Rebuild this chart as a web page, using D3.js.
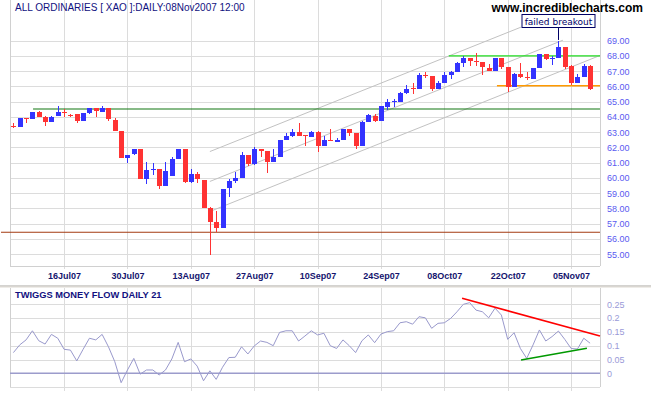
<!DOCTYPE html>
<html>
<head>
<meta charset="utf-8">
<script src="https://cdn.jsdelivr.net/npm/d3@7"></script>
<style>
body { margin: 0; background: #fff; }
svg { display: block; font-family: "Liberation Sans", Arial, sans-serif; }
</style>
</head>
<body>
<div id="grafico"></div>
<script>
// Trading days 04Jul07 .. 08Nov07, tick labels and axis values
var firstDay = new Date(2007, 6, 4), lastDay = new Date(2007, 10, 9);
var dateTicks = ["16Jul07", "30Jul07", "13Aug07", "27Aug07", "10Sep07", "24Sep07", "08Oct07", "22Oct07", "05Nov07"];
var priceTicks = [55, 56, 57, 58, 59, 60, 61, 62, 63, 64, 65, 66, 67, 68, 69];
var flowTicks = [0, 0.05, 0.1, 0.15, 0.2, 0.25];

// Daily OHLC (one value per trading day)
var opens = [63.42, 63.36, 63.93, 63.87, 64.30, 64.02, 63.69, 64.06,
  64.32, 64.10, 64.17, 63.75, 64.24, 64.57, 64.34, 64.57, 63.80, 63.08,
  61.33, 61.55, 61.90, 59.93, 60.55, 60.57, 59.49, 60.15, 61.24, 61.90,
  59.71, 60.26, 59.87, 58.05, 57.09, 56.74, 59.32, 59.80, 60.02, 61.50,
  60.90, 61.88, 61.77, 61.07, 61.39, 62.49, 62.75, 63.03, 62.82, 62.70,
  63.03, 62.11, 62.49, 62.36, 62.49, 63.21, 62.93, 62.11, 63.69, 64.08,
  63.75, 64.67, 64.98, 65.00, 65.55, 65.88, 65.83, 66.77, 66.69, 65.85,
  66.25, 66.78, 66.97, 67.54, 67.87, 67.69, 67.60, 67.21, 67.01, 67.85,
  67.28, 65.96, 66.82, 66.59, 66.49, 67.21, 68.13, 67.83, 67.89, 68.58,
  67.36, 66.25, 66.64, 67.36];
var highs = [63.58, 63.93, 63.94, 64.32, 64.39, 64.05, 64.05, 64.72,
  64.50, 64.18, 64.19, 64.26, 64.60, 64.60, 64.72, 64.59, 63.91, 63.10,
  61.52, 61.92, 61.92, 61.07, 60.96, 60.59, 61.07, 61.35, 61.92, 61.92,
  60.57, 60.41, 59.89, 58.07, 57.83, 59.28, 59.91, 60.41, 61.72, 61.52,
  62.01, 61.90, 61.79, 61.88, 62.51, 62.93, 63.21, 63.62, 62.84, 63.05,
  63.05, 62.75, 63.21, 62.64, 63.23, 63.23, 62.95, 63.71, 64.19, 64.19,
  64.74, 65.16, 65.16, 65.66, 66.09, 66.21, 66.86, 66.93, 66.71, 66.36,
  66.97, 66.99, 67.58, 68.00, 67.89, 68.17, 67.62, 67.47, 67.89, 67.87,
  67.30, 66.86, 67.54, 66.93, 67.23, 68.15, 68.15, 68.02, 68.95, 68.60,
  67.38, 66.82, 67.45, 67.38];
var lows = [63.25, 63.34, 63.58, 63.85, 64.00, 63.41, 63.67, 64.04,
  64.02, 63.98, 63.62, 63.73, 64.22, 63.98, 64.32, 63.75, 63.08, 61.30,
  60.96, 61.53, 59.91, 59.58, 60.19, 59.26, 59.47, 60.13, 61.22, 59.69,
  59.69, 59.65, 58.03, 54.97, 56.44, 56.72, 58.77, 59.65, 60.00, 60.78,
  60.88, 61.39, 60.34, 61.05, 61.37, 62.47, 62.70, 62.73, 62.11, 62.68,
  61.68, 62.09, 62.40, 62.34, 62.47, 62.77, 61.90, 62.09, 63.67, 63.69,
  63.73, 64.46, 64.67, 64.98, 65.53, 65.50, 65.81, 66.53, 65.72, 65.83,
  66.23, 66.47, 66.95, 67.30, 67.34, 67.34, 66.78, 66.99, 66.99, 67.12,
  65.66, 65.94, 66.55, 66.42, 66.47, 67.19, 67.73, 67.41, 67.87, 67.14,
  66.09, 66.23, 66.62, 65.75];
var closes = [63.40, 63.91, 63.90, 64.30, 64.02, 63.69, 64.02, 64.34,
  64.29, 64.07, 63.75, 64.24, 64.57, 64.39, 64.57, 63.85, 63.10, 61.33,
  61.50, 61.90, 59.93, 60.52, 60.58, 59.49, 60.46, 61.24, 61.90, 59.71,
  60.26, 59.93, 58.05, 57.13, 56.74, 59.26, 59.80, 60.02, 61.50, 60.90,
  61.88, 61.77, 61.07, 61.39, 62.49, 62.75, 63.03, 62.75, 62.75, 63.03,
  62.11, 62.49, 62.42, 62.49, 63.21, 62.93, 62.11, 63.69, 64.10, 63.75,
  64.70, 65.00, 65.02, 65.55, 65.83, 65.84, 66.75, 66.73, 65.85, 66.25,
  66.78, 66.97, 67.54, 67.87, 67.70, 67.65, 67.27, 67.01, 67.87, 67.28,
  65.98, 66.82, 66.60, 66.55, 67.21, 68.12, 67.80, 67.87, 68.58, 67.30,
  66.25, 66.60, 67.36, 65.81];

// Twiggs Money Flow 21
var moneyFlow = [0.075, 0.103, 0.121, 0.154, 0.118, 0.106, 0.141, 0.127,
  0.087, 0.084, 0.045, 0.087, 0.127, 0.121, 0.141, 0.096, 0.042, -0.034,
  0.012, 0.054, -0.003, 0.012, 0.012, -0.006, 0.012, 0.052, 0.112, 0.042,
  0.052, 0.026, -0.027, 0.009, -0.022, 0.022, 0.057, 0.058, 0.096, 0.070,
  0.099, 0.117, 0.112, 0.100, 0.148, 0.154, 0.154, 0.117, 0.135, 0.154,
  0.139, 0.145, 0.100, 0.090, 0.121, 0.100, 0.075, 0.118, 0.139, 0.111,
  0.142, 0.151, 0.154, 0.183, 0.187, 0.178, 0.205, 0.201, 0.163, 0.181,
  0.183, 0.199, 0.223, 0.250, 0.256, 0.229, 0.223, 0.201, 0.236, 0.211,
  0.123, 0.147, 0.090, 0.054, 0.103, 0.157, 0.117, 0.133, 0.153, 0.123,
  0.090, 0.088, 0.127, 0.109];

// Drawn lines: [day index, value] pairs
var channelUpper = [[31, 61.73], [80.1, 69.89]];
var channelMiddle = [[31, 59.77], [86.7, 69.03]];
var channelLower = [[31, 57.80], [92.56, 68.03]];
var supportOld = [[3.1, 64.52], [92.56, 64.52]];
var supportLow = [[-1.96, 56.44], [92.56, 56.44]];
var resistance = [[68.7, 68.0], [92.56, 68.0]];
var supportNew = [[76.3, 66.05], [92.56, 66.05]];
var flowDown = [[70.8, 0.272], [92.56, 0.135]];
var flowUp = [[80.1, 0.048], [90.5, 0.091]];
var breakout = {day: 86, price: 69.05, label: "failed breakout"};

var svg_area = d3.select("#grafico")
  .append("svg")
    .attr("width", 651)
    .attr("height", 395);

var left = 10, right = 600, bottom1 = 266, top2 = 288;

var days = d3.timeDay.range(firstDay, lastDay).filter(function(d) {
  return d.getDay() > 0 && d.getDay() < 6;
});
var dayKey = d3.timeFormat("%d%b%y");
var keys = days.map(dayKey);
var tickIdx = dateTicks.map(function(t) { return keys.indexOf(t); });

var x = d3.scaleLinear().domain([0, keys.length - 1]).range([13.4, 590.1]);
var y = d3.scaleLinear().domain([55, 69]).range([254.2, 40.7]);
var y_mf = d3.scaleLinear().domain([0, 0.25]).range([373.3, 304.3]);
var bottom2 = y_mf(-0.05);

function gridStyle(g) {
  g.select(".domain").remove();
  g.selectAll(".tick line").attr("stroke", "#dcdcdc").attr("shape-rendering", "crispEdges");
}

// Horizontal grid, price panel
svg_area.append("g")
  .attr("transform", "translate(" + left + ",0)")
  .call(d3.axisLeft(y).tickValues(priceTicks).tickSize(-(right - left)).tickFormat(""))
  .call(gridStyle);

// Horizontal grid, money flow panel
svg_area.append("g")
  .attr("transform", "translate(" + left + ",0)")
  .call(d3.axisLeft(y_mf).tickValues([-0.05].concat(flowTicks)).tickSize(-(right - left)).tickFormat(""))
  .call(gridStyle);

// Vertical grid + date labels
svg_area.append("g")
  .attr("transform", "translate(0,269)")
  .call(d3.axisBottom(x).tickValues(tickIdx).tickSize(-269).tickPadding(4)
    .tickFormat(function(d) { return keys[d]; }))
  .call(gridStyle)
  .call(function(g) {
    g.selectAll("text")
      .attr("fill", "#14146e")
      .style("font-size", "9px")
      .style("font-weight", "bold");
  });

svg_area.append("g")
  .attr("transform", "translate(0,391)")
  .call(d3.axisBottom(x).tickValues(tickIdx).tickSize(-(391 - top2)).tickFormat(""))
  .call(gridStyle);

// Panel frames
var frame = svg_area.append("g")
  .attr("stroke", "#d0d0d0")
  .attr("shape-rendering", "crispEdges");
frame.append("line").attr("x1", left).attr("x2", left).attr("y1", 0).attr("y2", bottom1);
frame.append("line").attr("x1", right).attr("x2", right).attr("y1", 0).attr("y2", bottom1);
frame.append("line").attr("x1", left).attr("x2", right).attr("y1", bottom1).attr("y2", bottom1);
frame.append("line").attr("x1", left).attr("x2", left).attr("y1", top2).attr("y2", bottom2);
frame.append("line").attr("x1", right).attr("x2", right).attr("y1", top2).attr("y2", bottom2);

// Separator between panels
svg_area.append("rect")
  .attr("x", 0).attr("y", 285.5)
  .attr("width", 651).attr("height", 1)
  .attr("fill", "#aaa8a2");
svg_area.append("rect")
  .attr("x", 0).attr("y", 286.5)
  .attr("width", 651).attr("height", 1)
  .attr("fill", "#dedad2");

// Price axis labels
svg_area.append("g")
  .attr("transform", "translate(" + right + ",0)")
  .call(d3.axisRight(y).tickValues(priceTicks).tickSize(0).tickPadding(7).tickFormat(d3.format(".2f")))
  .call(function(g) {
    g.select(".domain").remove();
    g.selectAll("text").attr("fill", "#5a5af0").style("font-size", "9px");
  });

// Money flow axis labels
svg_area.append("g")
  .attr("transform", "translate(" + right + ",0)")
  .call(d3.axisRight(y_mf).tickValues(flowTicks).tickSize(0).tickPadding(7)
    .tickFormat(function(d) { return String(+d.toFixed(2)); }))
  .call(function(g) {
    g.select(".domain").remove();
    g.selectAll("text").attr("fill", "#9a9ad8").style("font-size", "9px");
  });

// Straight lines in the price panel
var line_price = d3.line()
  .x(function(d) { return x(d[0]); })
  .y(function(d) { return y(d[1]); });

[channelUpper, channelMiddle, channelLower].forEach(function(l) {
  svg_area.append("path")
    .attr("d", line_price(l))
    .attr("fill", "none")
    .attr("stroke", "#c2c2c2")
    .attr("stroke-width", 1);
});

svg_area.append("path").attr("d", line_price(supportOld))
  .attr("fill", "none").attr("stroke", "#117711").attr("stroke-width", 1.2);
svg_area.append("path").attr("d", line_price(supportLow))
  .attr("fill", "none").attr("stroke", "#a33a10").attr("stroke-width", 1.2);
svg_area.append("path").attr("d", line_price(resistance))
  .attr("fill", "none").attr("stroke", "#22dd22").attr("stroke-width", 1.2);
svg_area.append("path").attr("d", line_price(supportNew))
  .attr("fill", "none").attr("stroke", "#ff9900").attr("stroke-width", 1.4);

// Candles
var candles = keys.map(function(k, i) {
  return {i: i, o: opens[i], h: highs[i], l: lows[i], c: closes[i]};
});
function candleColor(d) { return d.c >= d.o ? "#3333ff" : "#ff3333"; }

svg_area.append("g")
  .selectAll("line")
  .data(candles)
  .enter()
  .append("line")
    .attr("x1", function(d) { return Math.round(x(d.i)) + 0.5; })
    .attr("x2", function(d) { return Math.round(x(d.i)) + 0.5; })
    .attr("y1", function(d) { return y(d.h); })
    .attr("y2", function(d) { return y(d.l); })
    .attr("stroke", candleColor)
    .attr("shape-rendering", "crispEdges");

svg_area.append("g")
  .selectAll("rect")
  .data(candles)
  .enter()
  .append("rect")
    .attr("x", function(d) { return Math.round(x(d.i)) - 2; })
    .attr("width", 5)
    .attr("y", function(d) { return y(Math.max(d.o, d.c)); })
    .attr("height", function(d) { return Math.max(1, Math.abs(y(d.o) - y(d.c))); })
    .attr("fill", candleColor)
    .attr("shape-rendering", "crispEdges");

// Failed breakout note
var bx = Math.round(x(breakout.day)) + 0.5;
svg_area.append("line")
  .attr("x1", bx).attr("x2", bx)
  .attr("y1", 27.5).attr("y2", y(breakout.price))
  .attr("stroke", "#000066");
svg_area.append("rect")
  .attr("x", bx - 36.5).attr("y", 14.5)
  .attr("width", 73).attr("height", 13)
  .attr("fill", "#fff")
  .attr("stroke", "#000066");
svg_area.append("text")
  .attr("x", bx).attr("y", 24.5)
  .attr("text-anchor", "middle")
  .style("font-family", "'DejaVu Sans', sans-serif")
  .style("font-size", "9px")
  .attr("fill", "#000066")
  .text(breakout.label);

// Money flow panel
var line_flow = d3.line()
  .x(function(d) { return x(d[0]); })
  .y(function(d) { return y_mf(d[1]); });

svg_area.append("line")
  .attr("x1", left).attr("x2", right)
  .attr("y1", y_mf(0)).attr("y2", y_mf(0))
  .attr("stroke", "#9c9ccc")
  .attr("stroke-width", 1.5);

svg_area.append("path")
  .datum(moneyFlow.map(function(v, i) { return [i, v]; }))
  .attr("d", line_flow)
  .attr("fill", "none")
  .attr("stroke", "#9999cc")
  .attr("stroke-width", 1);

svg_area.append("path").attr("d", line_flow(flowDown))
  .attr("fill", "none").attr("stroke", "#ff0000").attr("stroke-width", 1.6);
svg_area.append("path").attr("d", line_flow(flowUp))
  .attr("fill", "none").attr("stroke", "#009900").attr("stroke-width", 1.6);

// Titles
svg_area.append("text")
  .attr("x", 15).attr("y", 10.5)
  .text("ALL ORDINARIES [ XAO ]:DAILY:08Nov2007 12:00")
  .attr("fill", "#101080")
  .style("font-size", "10px");

svg_area.append("text")
  .attr("x", 643).attr("y", 11.5)
  .attr("text-anchor", "end")
  .text("www.incrediblecharts.com")
  .attr("fill", "#000")
  .style("font-size", "12px")
  .style("font-weight", "bold");

svg_area.append("text")
  .attr("x", 15).attr("y", 297.5)
  .text("TWIGGS MONEY FLOW DAILY 21")
  .attr("fill", "#101080")
  .style("font-size", "9.3px")
  .style("font-weight", "bold");
</script>
</body>
</html>
